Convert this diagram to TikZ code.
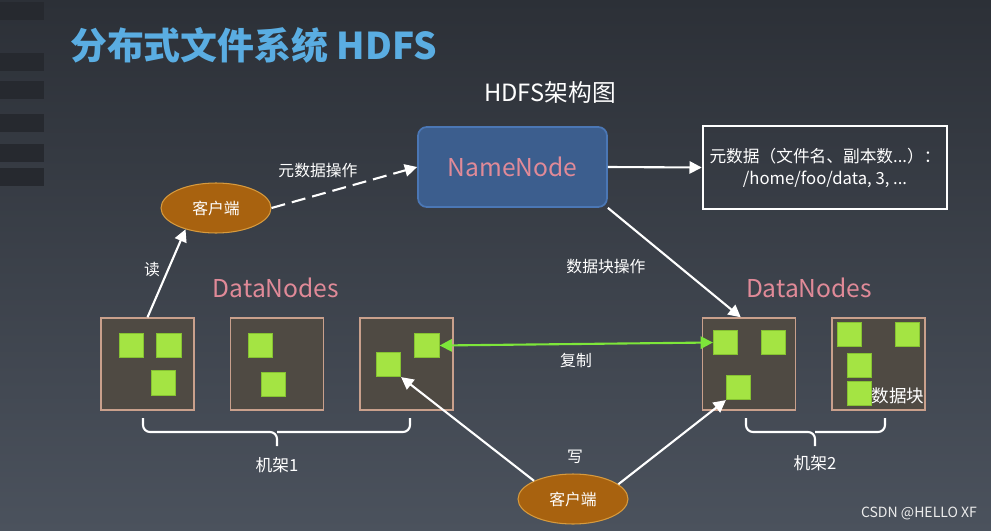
\documentclass[tikz,border=0pt]{standalone}
\usepackage{fontspec}
\setmainfont{Noto Sans CJK SC}
\usepackage{tikz}
\usetikzlibrary{shapes.geometric, arrows.meta}
\definecolor{bgTop}{HTML}{2C3037}
\definecolor{bgBottom}{HTML}{4B525D}
\definecolor{stripeC}{HTML}{26292F}
\definecolor{titleC}{HTML}{5AADE2}
\definecolor{nnFill}{HTML}{3C5E8E}
\definecolor{nnLine}{HTML}{4B77B5}
\definecolor{pinkC}{HTML}{E08A98}
\definecolor{dnFill}{HTML}{4F4A43}
\definecolor{dnLine}{HTML}{C9A08C}
\definecolor{blkFill}{HTML}{A4E443}
\definecolor{blkLine}{HTML}{86C232}
\definecolor{cliFill}{HTML}{A8620F}
\definecolor{cliLine}{HTML}{D79A3D}
\definecolor{repC}{HTML}{7DE63A}

\begin{document}
\begin{tikzpicture}[x=0.02cm, y=-0.02cm,
    dnbox/.style={draw=dnLine, fill=dnFill, line width=0.8pt, minimum width=1.86cm, minimum height=1.84cm},
    blk/.style={draw=blkLine, fill=blkFill, line width=0.4pt, minimum size=0.49cm, inner sep=0pt},
    client/.style={ellipse, draw=cliLine, fill=cliFill, line width=0.6pt, minimum width=2.2cm, minimum height=1cm, inner sep=0pt, text=white, font=\fontsize{9}{10}\selectfont},
    lbl/.style={text=white, font=\fontsize{9}{10}\selectfont},
    dnlbl/.style={text=pinkC, font=\fontsize{14}{16}\selectfont},
    arr/.style={draw=white, line width=1.2pt, -{Triangle[length=7pt, width=7pt]}},
    brace/.style={draw=white, line width=1.2pt, rounded corners=4pt}]
    % background and slide strip
    \useasboundingbox (0,0) rectangle (991,531);
    \shade[top color=bgTop, bottom color=bgBottom] (0,0) rectangle (991,531);
    \foreach \ya/\yb in {2/20, 53/71, 81/99, 114/132, 144/162, 168/186}
        \fill[stripeC] (0,\ya) rectangle (44,\yb);

    % titles
    \node[text=titleC, font=\fontsize{21}{24}\selectfont\bfseries, anchor=west] (title) at (64,45) {分布式文件系统 HDFS};
    \node[text=white, font=\fontsize{13.5}{16}\selectfont] (sub) at (550,92) {HDFS架构图};

    % namenode and metadata
    \node[draw=nnLine, fill=nnFill, line width=1pt, rounded corners=5pt, minimum width=3.78cm, minimum height=1.6cm,
        text=pinkC, font=\fontsize{14}{16}\selectfont] (nn) at (512.5,167) {NameNode};
    \node[draw=white, line width=1.4pt, minimum width=4.88cm, minimum height=1.66cm, align=center,
        text=white, font=\fontsize{9.5}{12.5}\selectfont] (meta) at (825,167.5) {元数据（文件名、副本数...）：\\/home/foo/data, 3, ...};

    % clients
    \node[client] (cl1) at (216,208) {客户端};
    \node[client] (cl2) at (573,499) {客户端};

    % datanodes
    \node[dnlbl] (dnl1) at (276,288) {DataNodes};
    \node[dnlbl] (dnl2) at (809,288) {DataNodes};
    \node[dnbox] (box1) at (147.5,364) {};
    \node[dnbox] (box2) at (277,364) {};
    \node[dnbox] (box3) at (406.5,364) {};
    \node[dnbox] (box4) at (749,364) {};
    \node[dnbox] (box5) at (878.5,364) {};

    % blocks
    \node[blk] (b1a) at (131.5,345.5) {};
    \node[blk] (b1b) at (169,345.5) {};
    \node[blk] (b1c) at (163.5,383) {};
    \node[blk] (b2a) at (260.5,345.5) {};
    \node[blk] (b2b) at (273.5,384.5) {};
    \node[blk] (b3a) at (388.5,364.5) {};
    \node[blk] (b3b) at (427,345.5) {};
    \node[blk] (b4a) at (725.5,342.5) {};
    \node[blk] (b4b) at (773.5,342.5) {};
    \node[blk] (b4c) at (738.5,387.5) {};
    \node[blk] (b5a) at (849.5,334.5) {};
    \node[blk] (b5b) at (907.5,334.5) {};
    \node[blk] (b5c) at (859.5,365.5) {};
    \node[blk] (b5d) at (859.5,393.5) {};
    \node[lbl, font=\fontsize{10}{11}\selectfont] (blklbl) at (898,396) {数据块};

    % connectors
    \draw[arr, dash pattern=on 8pt off 4pt] (cl1.east) -- (nn.west);
    \node[lbl] (metaop) at (318,171) {元数据操作};
    \draw[arr] (nn.east) -- (meta.west);
    \draw[arr] (box1.north) -- (cl1.215);
    \node[lbl] (read) at (152,270) {读};
    \draw[arr] (nn.south east) -- (box4.100);
    \node[lbl] (blkop) at (606,267) {数据块操作};
    \draw[draw=repC, line width=1.2pt, {Triangle[length=7pt, width=7pt]}-{Triangle[length=7pt, width=7pt]}] (b3b.east) -- (b4a.west);
    \node[lbl] (rep) at (576,360) {复制};
    \draw[arr] (cl2.155) -- (b3a.south east);
    \draw[arr] (cl2.18) -- (b4c.south west);
    \node[lbl] (write) at (575,457) {写};

    % racks
    \draw[brace] (143,418) |- (277,432) -- (277,446);
    \draw[brace] (410,418) |- (277,432);
    \node[lbl, font=\fontsize{9.5}{11}\selectfont] (rack1) at (277,465) {机架1};
    \draw[brace] (746,418) |- (815,432) -- (815,446);
    \draw[brace] (885,418) |- (815,432);
    \node[lbl, font=\fontsize{9.5}{11}\selectfont] (rack2) at (815,463) {机架2};

    \node[text=white!85!gray, font=\fontsize{8}{9}\selectfont] (mark) at (919,513) {CSDN @HELLO XF};
\end{tikzpicture}
\end{document}
